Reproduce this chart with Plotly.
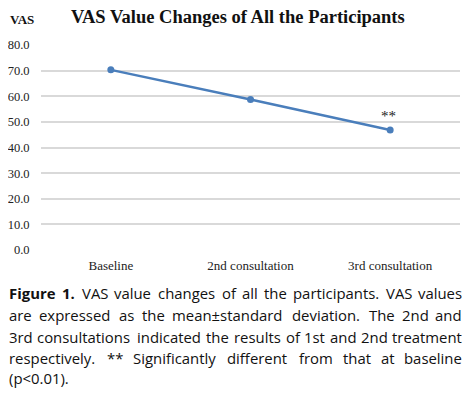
import plotly.graph_objects as go

categories = ["Baseline", "2nd consultation", "3rd consultation"]
vas_values = [70.3, 58.7, 46.8]
y_ticks = [0, 10, 20, 30, 40, 50, 60, 70, 80]
y_tick_labels = ["0.0", "10.0", "20.0", "30.0", "40.0", "50.0", "60.0", "70.0", "80.0"]
caption_lines = [
    "Figure 1. VAS value changes of all the participants. VAS values",
    "are expressed as the mean±standard deviation. The 2nd and",
    "3rd consultations indicated the results of 1st and 2nd treatment",
    "respectively. ** Significantly different from that at baseline",
    "(p<0.01).",
]

serif = "Liberation Serif, Times New Roman, serif"
sans = "Open Sans, Noto Sans, sans-serif"

# page offset (browser body margin) compensation
OFF = 8
W, H = 470 - OFF, 398 - OFF
L, T = 41 - OFF, 45 - OFF
PB = 250 - OFF
R = 10
B = H - PB
PW = W - L - R
PH = PB - T


def px(x_img):
    return (x_img - OFF - L) / PW


def py(y_img):
    return (PB - (y_img - OFF)) / PH


# approximate Open Sans advance widths (em) used only to justify caption text
EM = {" ": .26, "a": .556, "b": .613, "c": .476, "d": .613, "e": .561, "f": .339,
      "g": .548, "h": .614, "i": .253, "j": .253, "k": .525, "l": .253, "m": .930,
      "n": .614, "o": .604, "p": .613, "q": .613, "r": .408, "s": .477, "t": .353,
      "u": .614, "v": .501, "w": .778, "x": .524, "y": .502, "z": .469,
      "A": .633, "F": .516, "S": .549, "T": .553, "V": .592, ".": .266, ",": .246,
      "(": .296, ")": .296, "<": .572, "±": .572, "*": .551}
for d in "0123456789":
    EM[d] = .572

CAP_SIZE = 14.9
GRID = "#d9d9d9"


def word_width(w, bold):
    return sum(EM.get(ch, .56) for ch in w) * CAP_SIZE * 1.02 * (1.08 if bold else 1.0)


fig = go.Figure()

fig.add_trace(go.Scatter(
    x=categories, y=vas_values, mode="lines+markers",
    line=dict(color="#4a7ebb", width=2.5),
    marker=dict(color="#4a7ebb", size=7),
    showlegend=False,
))

fig.add_annotation(x=categories[2], y=vas_values[2], text="**", showarrow=False,
                   yshift=14, xshift=-2, yanchor="middle",
                   font=dict(family=serif, size=15, color="#222"))

fig.add_annotation(xref="paper", yref="paper", x=px(238), y=py(17),
                   xanchor="center", yanchor="middle",
                   text="<b>VAS Value Changes of All the Participants</b>", showarrow=False,
                   font=dict(family=serif, size=18.5, color="#111"))
fig.add_annotation(xref="paper", yref="paper", x=px(21.5), y=py(20),
                   xanchor="center", yanchor="middle",
                   text="<b>VAS</b>", showarrow=False,
                   font=dict(family=serif, size=13, color="#111"))

cap_y = [293, 315, 337, 358, 378]
X_LEFT, X_RIGHT = 8, 463
for li, (line, yy) in enumerate(zip(caption_lines, cap_y)):
    words = [(w, False) for w in line.split(" ")]
    if li == 0:
        words[0] = ("Figure", True)
        words[1] = ("1.", True)
    if li == len(caption_lines) - 1:
        fig.add_annotation(xref="paper", yref="paper", x=px(X_LEFT), y=py(yy),
                           xanchor="left", yanchor="middle", text=line, showarrow=False,
                           borderpad=0, font=dict(family=sans, size=CAP_SIZE, color="#111"))
        continue
    widths = [word_width(w, b) for w, b in words]
    gap = (X_RIGHT - X_LEFT - sum(widths)) / (len(words) - 1)
    x = X_LEFT
    for i, ((w, b), ww) in enumerate(zip(words, widths)):
        txt = f"<b>{w}</b>" if b else w
        last = i == len(words) - 1
        fig.add_annotation(xref="paper", yref="paper", x=px(X_RIGHT if last else x), y=py(yy),
                           xanchor="right" if last else "left", yanchor="middle",
                           text=txt, showarrow=False, borderpad=0,
                           font=dict(family=sans, size=CAP_SIZE, color="#111"))
        x += ww + gap

fig.update_layout(
    width=W, height=H,
    margin=dict(l=L, r=R, t=T, b=B, pad=0),
    paper_bgcolor="white", plot_bgcolor="white",
    xaxis=dict(range=[-0.5, 2.5], showgrid=False, showline=False, zeroline=False,
               automargin=False, ticks="outside", ticklen=3, tickcolor="rgba(0,0,0,0)",
               tickfont=dict(family=serif, size=13, color="#222")),
    yaxis=dict(range=[0, 80], tickvals=y_ticks, ticktext=y_tick_labels,
               showgrid=True, gridcolor=GRID, gridwidth=2, zeroline=False,
               automargin=False, showline=False, ticks="outside", ticklen=8,
               tickcolor="rgba(0,0,0,0)",
               tickfont=dict(family=serif, size=12.5, color="#222")),
)

fig.write_html("out.html")
